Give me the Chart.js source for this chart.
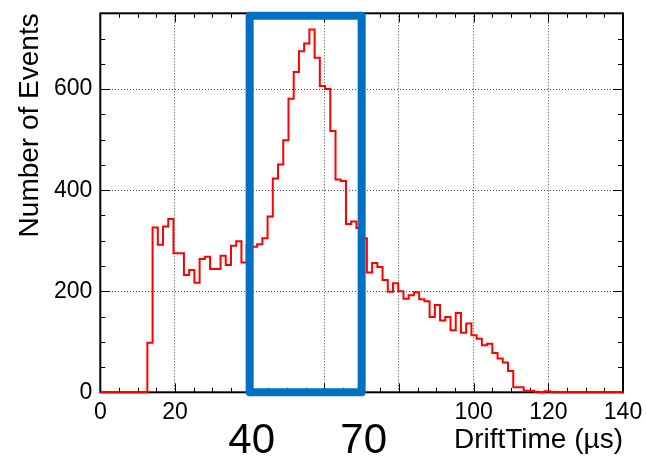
<!DOCTYPE html>
<html>
<head>
<meta charset="utf-8">
<script src="https://cdn.jsdelivr.net/npm/chart.js@4.4.1/dist/chart.umd.min.js"></script>
<style>
  html, body { margin: 0; padding: 0; background: #fff; }
</style>
</head>
<body>
<canvas id="chartDrift" width="646" height="457"></canvas>
<script>
// Histogram: 100 bins of 1.4 us between 0 and 140 us
const xMin = 0;
const xMax = 140;
const yMax = 750;
const binWidth = 1.4;
const counts = [
  0, 0, 0, 0, 0, 0, 0, 0, 0, 98,
  326, 292, 328, 343, 275, 275, 232, 242, 217, 264,
  268, 244, 244, 270, 252, 290, 299, 257, 290, 288,
  293, 305, 348, 423, 451, 499, 581, 634, 675, 690,
  718, 662, 606, 600, 517, 421, 418, 333, 338, 325,
  305, 237, 256, 248, 222, 199, 216, 200, 185, 192,
  198, 184, 180, 149, 173, 142, 149, 123, 157, 118,
  136, 113, 106, 93, 96, 78, 67, 59, 42, 10,
  10, 3, 3, 1, 0, 2, 0, 0, 0, 0,
  0, 0, 0, 0, 0, 0, 0, 0, 0, 0
];
const xTickValues = [0, 20, 40, 60, 80, 100, 120, 140];
const xTickLabels = ["0", "20", "", "", "", "100", "120", "140"];
const yTickValues = [0, 200, 400, 600];
// drift time window marked on the plot
const windowEdges = [40, 70];
const windowLabels = ["40", "70"];
const windowTop = 745;

const fuente = "'Liberation Sans', Arial, Helvetica, sans-serif";

function puntosHistograma() {
  // cada punto es el borde izquierdo del bin; el ultimo cierra en xMax
  const puntos = counts.map((c, i) => ({ x: xMin + i * binWidth, y: c }));
  puntos.push({ x: xMax, y: counts[counts.length - 1] });
  return puntos;
}

function puntosVentana() {
  const [a, b] = windowEdges;
  return [
    { x: a, y: 0 }, { x: a, y: windowTop }, { x: b, y: windowTop },
    { x: b, y: 0 }, { x: a, y: 0 }
  ];
}

function sinRelleno(s) {
  s.paddingLeft = 0;
  s.paddingRight = 0;
  s.paddingTop = 0;
  s.paddingBottom = 0;
}

// marco al estilo ROOT: caja negra con marcas hacia adentro en los cuatro lados
const marcoRoot = {
  id: "marcoRoot",
  beforeDatasetsDraw(chart) {
    const { ctx, chartArea: a, scales } = chart;
    const sx = scales.x, sy = scales.y;
    ctx.save();
    ctx.strokeStyle = "#000";
    ctx.lineWidth = 1;
    ctx.beginPath();
    for (let v = xMin; v <= xMax; v += 5) {
      const px = Math.round(sx.getPixelForValue(v)) + 0.5;
      const len = v % 20 === 0 ? 9 : 4.5;
      ctx.moveTo(px, a.bottom); ctx.lineTo(px, a.bottom - len);
      ctx.moveTo(px, a.top); ctx.lineTo(px, a.top + len);
    }
    for (let v = 0; v <= yMax; v += 50) {
      const py = Math.round(sy.getPixelForValue(v)) + 0.5;
      const len = v % 200 === 0 ? 10 : 5;
      ctx.moveTo(a.left, py); ctx.lineTo(a.left + len, py);
      ctx.moveTo(a.right, py); ctx.lineTo(a.right - len, py);
    }
    ctx.stroke();
    ctx.lineWidth = 2;
    ctx.strokeRect(a.left, a.top, a.right - a.left, a.bottom - a.top);
    ctx.restore();
  },
  afterDraw(chart) {
    const { ctx, scales } = chart;
    ctx.save();
    ctx.fillStyle = "#000";
    ctx.font = "42px " + fuente;
    ctx.textAlign = "center";
    ctx.textBaseline = "alphabetic";
    windowEdges.forEach((v, i) => {
      ctx.fillText(windowLabels[i], scales.x.getPixelForValue(v) + 2, 453);
    });
    ctx.restore();
  }
};

const grid = { color: "#444", lineWidth: 1, drawTicks: false };
const borde = { display: false, dash: [1, 2] };

new Chart(document.getElementById("chartDrift"), {
  type: "line",
  data: {
    datasets: [
      {
        data: puntosVentana(),
        borderColor: "#0070c0",
        borderWidth: 8,
        borderJoinStyle: "round",
        borderCapStyle: "round",
        pointRadius: 0,
        fill: false,
        tension: 0,
        clip: false
      },
      {
        data: puntosHistograma(),
        stepped: "before",
        borderColor: "#ff0000",
        borderWidth: 2,
        pointRadius: 0,
        fill: false,
        clip: false
      }
    ]
  },
  options: {
    responsive: false,
    animation: false,
    events: [],
    layout: { padding: { top: 13.3, right: 23, left: 0, bottom: 0 } },
    plugins: { legend: { display: false }, tooltip: { enabled: false } },
    scales: {
      x: {
        type: "linear",
        min: xMin,
        max: xMax,
        afterBuildTicks: (s) => { s.ticks = xTickValues.map((v) => ({ value: v })); },
        afterFit: (s) => { s.height = 64.7; sinRelleno(s); },
        ticks: {
          autoSkip: false,
          maxRotation: 0,
          padding: 7,
          color: "#000",
          font: { family: fuente, size: 23 },
          callback: (v) => xTickLabels[xTickValues.indexOf(v)] ?? ""
        },
        grid: grid,
        border: borde,
        title: {
          display: true,
          text: "DriftTime (\u00b5s)",
          align: "end",
          color: "#000",
          font: { family: fuente, size: 28 },
          padding: { top: 0, bottom: 0 }
        }
      },
      y: {
        type: "linear",
        min: 0,
        max: yMax,
        afterBuildTicks: (s) => { s.ticks = yTickValues.map((v) => ({ value: v })); },
        afterFit: (s) => { s.width = 100.3; sinRelleno(s); },
        ticks: {
          padding: 8,
          color: "#000",
          font: { family: fuente, size: 23 }
        },
        grid: grid,
        border: borde,
        title: {
          display: true,
          text: "Number of Events",
          align: "end",
          color: "#000",
          font: { family: fuente, size: 28 },
          padding: { top: 13, bottom: 0 }
        }
      }
    }
  },
  plugins: [marcoRoot]
});
</script>
</body>
</html>
